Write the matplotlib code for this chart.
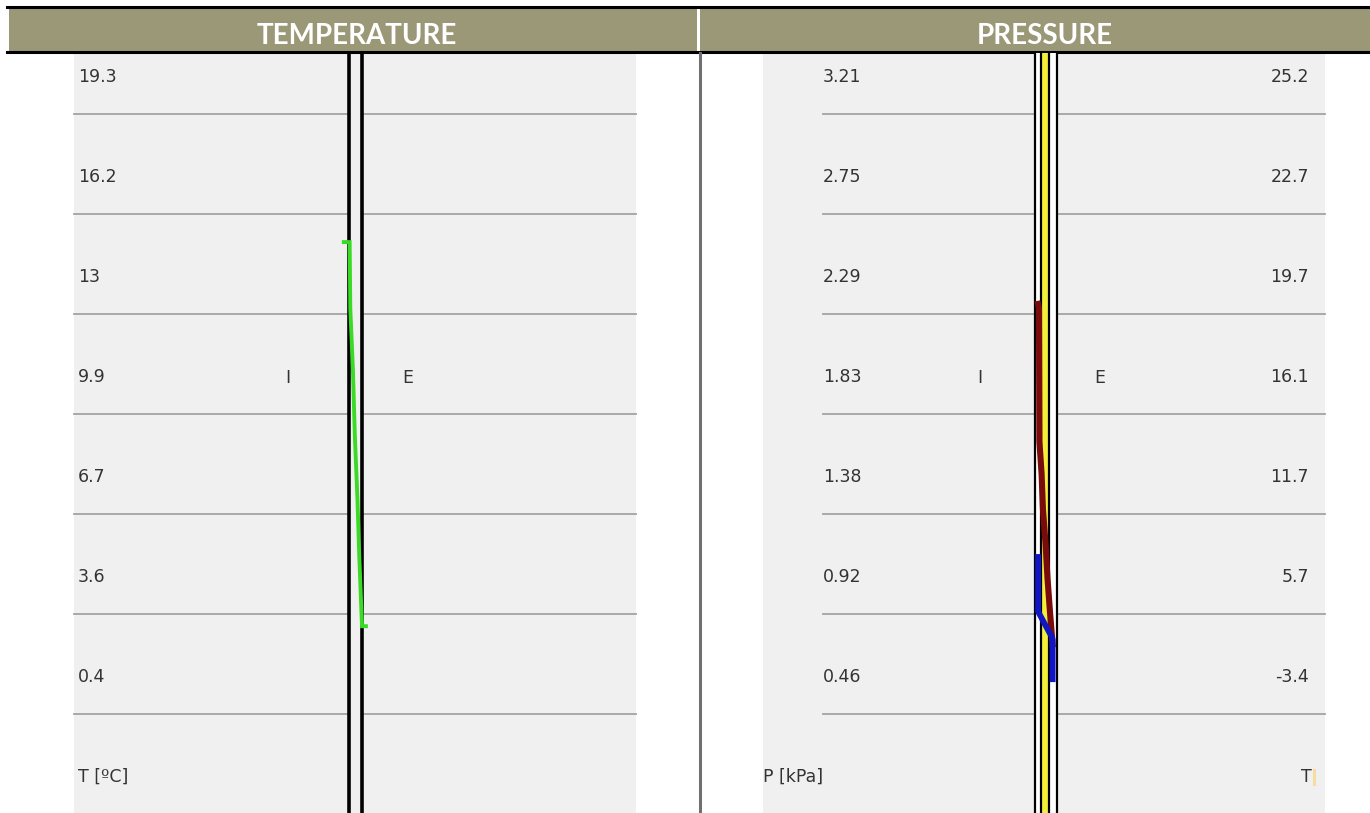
import numpy as np
import matplotlib
matplotlib.use('Agg')
import matplotlib.pyplot as plt
from matplotlib.patches import Rectangle

# temperature panel: row labels and the profile through the wall
temp_ticks = [19.3, 16.2, 13, 9.9, 6.7, 3.6, 0.4]
temp_depth = [-0.4, 0.05, 0.1, 0.3, 0.45, 0.65, 0.8, 1.0, 1.3]
temp_values = [14.1, 14.1, 12.0, 10.1, 8.0, 6.0, 4.1, 2.0, 2.0]

# pressure panel: pressure rows, matching dew point rows and the two profiles
pres_ticks = [3.21, 2.75, 2.29, 1.83, 1.38, 0.92, 0.46]
dew_ticks = [25.2, 22.7, 19.7, 16.1, 11.7, 5.7, -3.4]
sat_depth = [0.14, 0.18, 0.20, 0.30, 0.36, 0.48, 0.57, 0.68, 0.80]
sat_values = [2.17, 2.15, 1.54, 1.39, 1.23, 1.07, 0.91, 0.76, 0.61]
vap_depth = [0.14, 0.14, 0.78, 0.80, 0.80]
vap_values = [1.01, 0.76, 0.64, 0.63, 0.45]
pres_layers = [0.0, 0.27, 0.64, 1.0]

W, H = 1370, 813
HEAD_COLOR = '#9b9877'
PANEL_COLOR = '#f0f0f0'
GRID_COLOR = '#a3a3a3'
TEXT_COLOR = '#333333'
LABEL_SIZE = 12.5
TOP = 53          # first pixel row under the header
ROW0 = 77         # centre of the first label row
ROW_H = 100       # height of one row


def px_axes(fig, x0, x1):
    # axes covering a panel column from the header down to the bottom
    return fig.add_axes([x0 / W, 0, (x1 - x0) / W, (H - TOP) / H])


def value_limits(ticks):
    # rows are evenly spaced, so the value scale is linear in pixels
    step = (ticks[0] - ticks[-1]) / (len(ticks) - 1)
    per_px = step / ROW_H
    top = ticks[0] + (ROW0 - TOP) * per_px
    bottom = ticks[0] - (H - ROW0) * per_px
    return bottom, top


def wall_limits(x0, x1, wall0, wall1):
    # wall depth 0..1 spans pixels wall0..wall1
    scale = wall1 - wall0
    return (x0 - wall0) / scale, (x1 - wall0) / scale


def label(x, y, s, ha='left'):
    bg.text(x, y, s, color=TEXT_COLOR, fontsize=LABEL_SIZE, ha=ha, va='center')


fig = plt.figure(figsize=(W / 100, H / 100), dpi=100)
fig.patch.set_facecolor('white')

bg = fig.add_axes([0, 0, 1, 1])
bg.set_xlim(0, W)
bg.set_ylim(H, 0)
bg.axis('off')

# header band
bg.add_patch(Rectangle((9, 7), W - 9, 45, color=HEAD_COLOR, lw=0))
bg.plot([7, W], [7, 7], color='black', lw=2.2)
bg.plot([7, W], [52, 52], color='black', lw=2.2)
bg.add_patch(Rectangle((697.5, 8), 3, 43, color='white', lw=0))
bg.text(357, 36, 'TEMPERATURE', color='white', fontsize=20, fontweight='bold',
        ha='center', va='center', family='Lato')
bg.text(1045, 36, 'PRESSURE', color='white', fontsize=20, fontweight='bold',
        ha='center', va='center', family='Lato')

# panel backgrounds and the divider
bg.add_patch(Rectangle((74, TOP), 562, H - TOP, color=PANEL_COLOR, lw=0))
bg.add_patch(Rectangle((763, TOP), 562, H - TOP, color=PANEL_COLOR, lw=0))
bg.plot([700, 700], [TOP, H], color='#707070', lw=2.2)

# horizontal row separators, broken where the wall is
for i in range(len(temp_ticks)):
    y = ROW0 + 37 + ROW_H * i
    bg.plot([74, 347], [y, y], color=GRID_COLOR, lw=1.3)
    bg.plot([364, 636], [y, y], color=GRID_COLOR, lw=1.3)
    bg.plot([823, 1034], [y, y], color=GRID_COLOR, lw=1.3)
    bg.plot([1058, 1325], [y, y], color=GRID_COLOR, lw=1.3)

# ---- temperature panel ----
ax_t = px_axes(fig, 74, 636)
ax_t.set_xlim(*wall_limits(74, 636, 349, 362))
ax_t.set_ylim(*value_limits(temp_ticks))
ax_t.axis('off')
ax_t.patch.set_alpha(0)
for edge in [0.0, 1.0]:
    ax_t.axvline(edge, color='black', lw=2.6)
ax_t.plot(temp_depth, temp_values, color='#39db24', lw=2.8, solid_joinstyle='miter')

for i, t in enumerate(temp_ticks):
    label(78, ROW0 + ROW_H * i, '%g' % t)
label(78, ROW0 + ROW_H * 7, 'T [ºC]')
label(288, 378, 'I', ha='center')
label(408, 378, 'E', ha='center')

# ---- pressure panel ----
ax_p = px_axes(fig, 763, 1325)
ax_p.set_xlim(*wall_limits(763, 1325, 1035, 1057))
ax_p.set_ylim(*value_limits(pres_ticks))
ax_p.axis('off')
ax_p.patch.set_alpha(0)
ax_p.axvspan(pres_layers[0], pres_layers[-1], color='white', lw=0)
ax_p.axvspan(pres_layers[1], pres_layers[2], color='#f3ef3a', lw=0)
for edge in pres_layers:
    ax_p.axvline(edge, color='black', lw=1.6)
ax_p.plot(sat_depth, sat_values, color='#7a0b0b', lw=4.4)
ax_p.plot(vap_depth, vap_values, color='#1016c4', lw=4.2)

for i, p in enumerate(pres_ticks):
    label(823, ROW0 + ROW_H * i, '%.2f' % p)
for i, d in enumerate(dew_ticks):
    label(1309, ROW0 + ROW_H * i, '%g' % d, ha='right')
label(763, ROW0 + ROW_H * 7, 'P [kPa]')
label(1312, ROW0 + ROW_H * 7, 'T', ha='right')
bg.add_patch(Rectangle((1313, 769), 3, 17, color='#f6dca0', lw=0))
label(980, 378, 'I', ha='center')
label(1100, 378, 'E', ha='center')

fig.savefig('out.png', dpi=100)
